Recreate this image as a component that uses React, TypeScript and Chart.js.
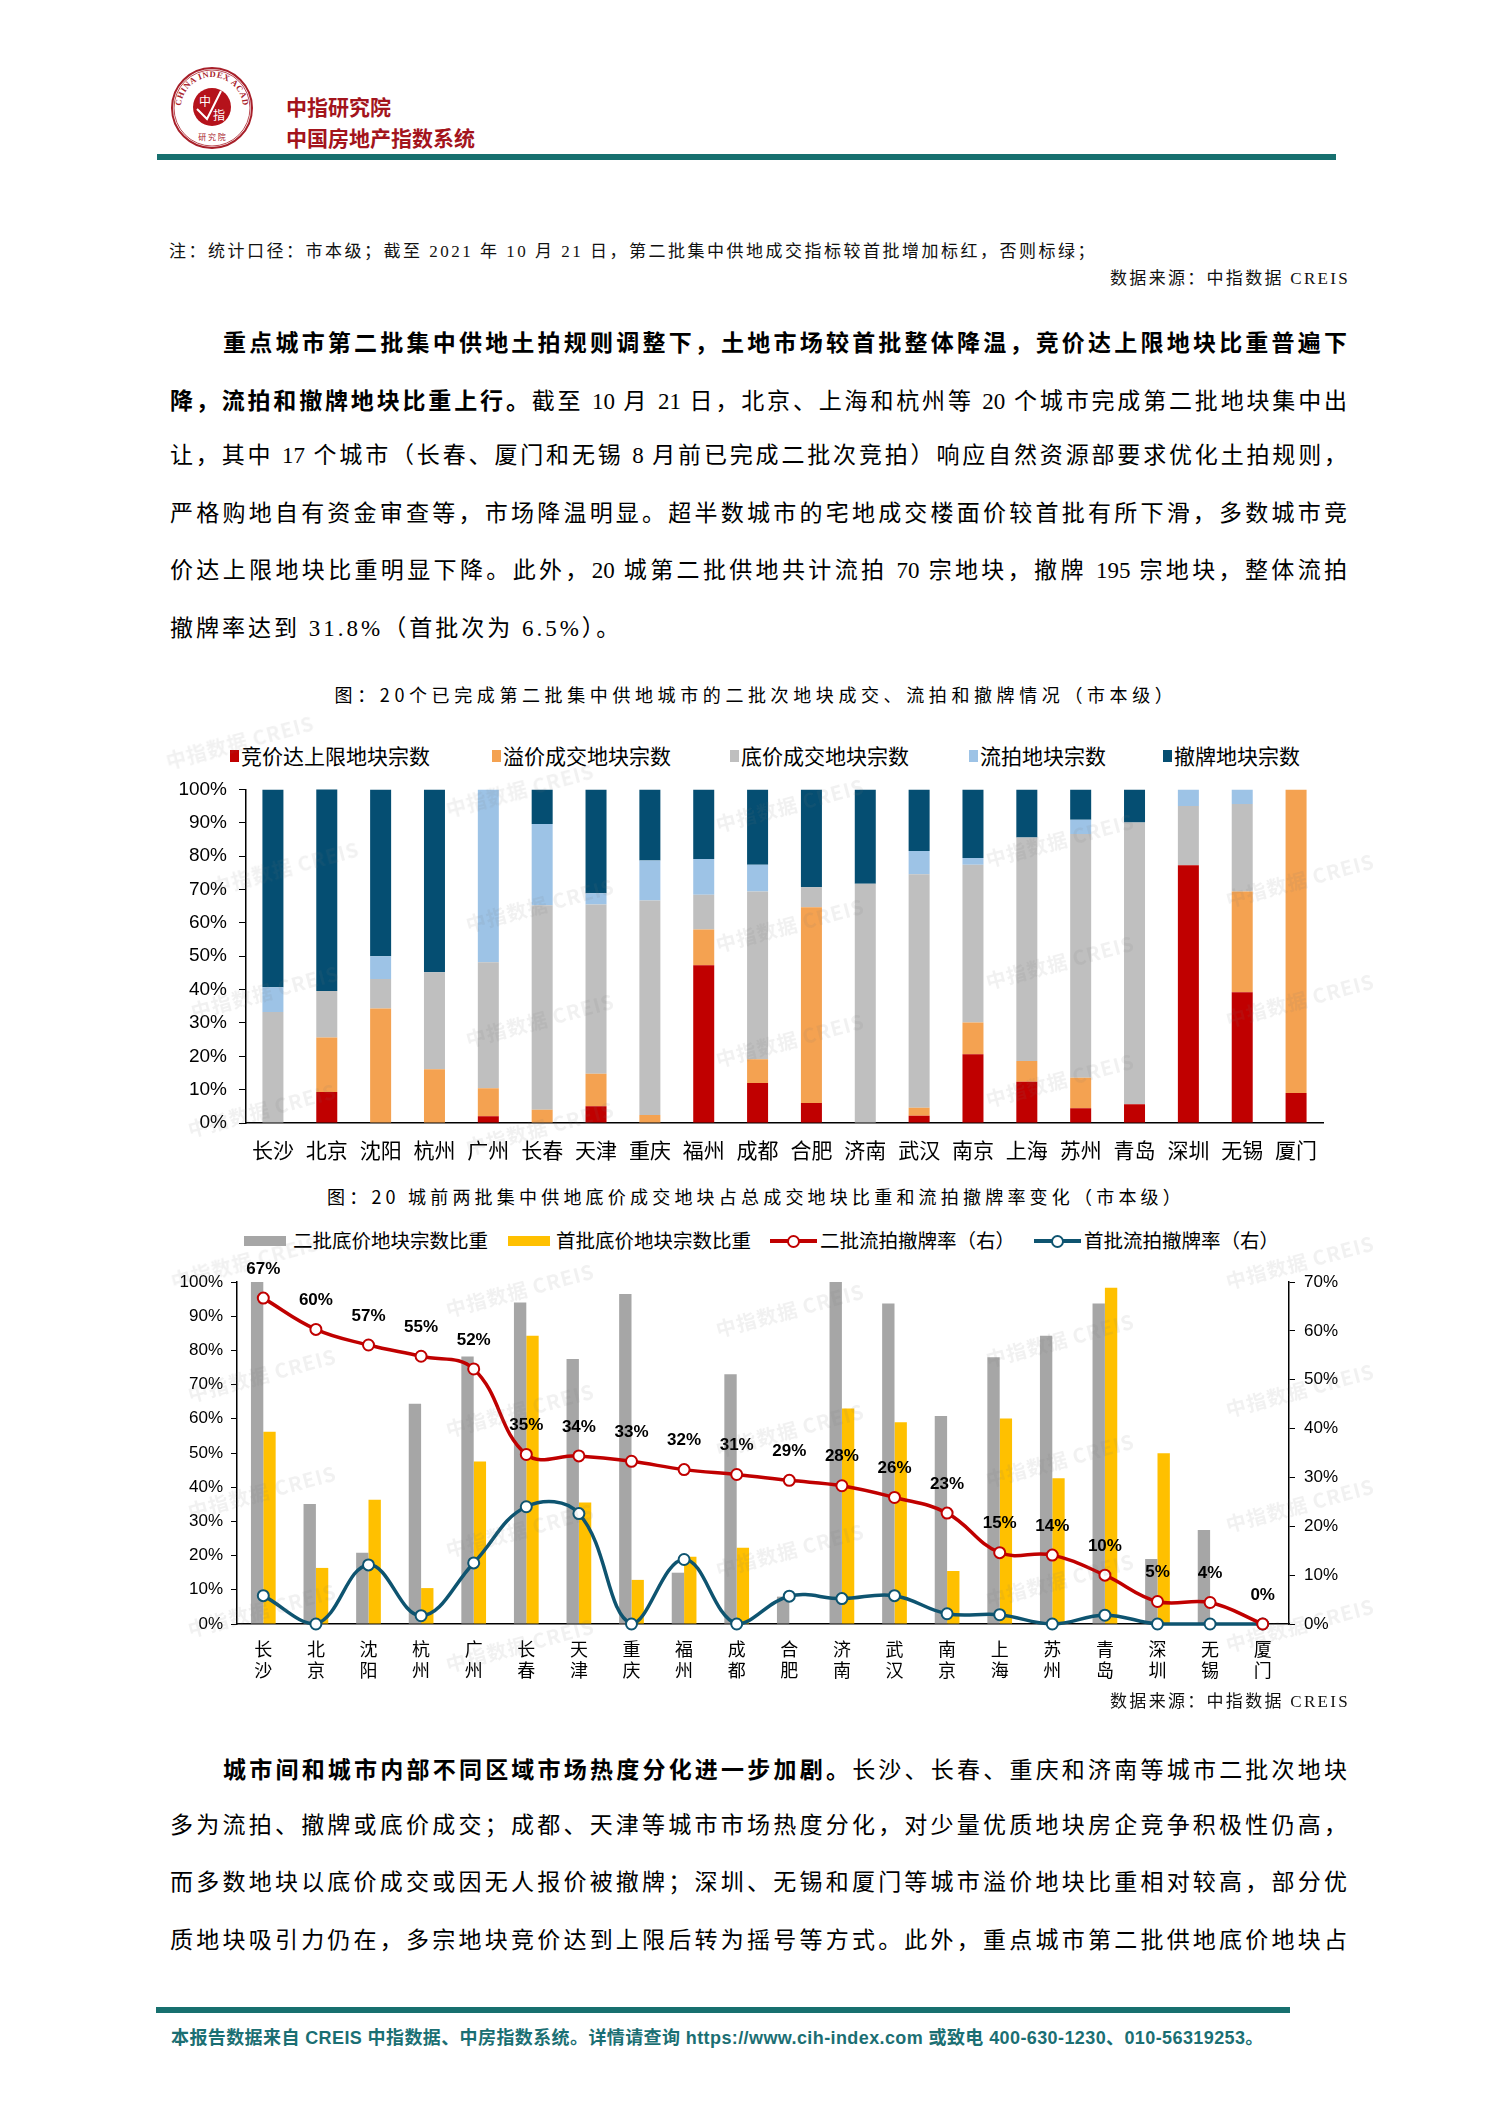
import React, { useEffect, useRef } from 'react';
import { Chart, registerables } from 'chart.js';

Chart.register(...registerables);

// ---------- data ----------
const cities = ['长沙', '北京', '沈阳', '杭州', '广州', '长春', '天津', '重庆', '福州', '成都', '合肥', '济南', '武汉', '南京', '上海', '苏州', '青岛', '深圳', '无锡', '厦门'];

// Chart 1: share of plots (%) in the second batch
const cappedShare = [0, 9.3, 0, 0, 2.0, 0, 5.0, 0, 47.3, 12.0, 6.0, 0, 2.2, 20.6, 12.4, 4.4, 5.6, 77.3, 39.2, 9.0];
const premiumShare = [0, 16.3, 34.3, 16.1, 8.4, 4.0, 9.8, 2.4, 10.7, 7.1, 58.7, 0, 2.4, 9.5, 6.2, 9.2, 0, 0, 30.2, 91.0];
const reserveShare = [33.3, 14.0, 8.9, 29.1, 37.8, 61.3, 50.7, 64.3, 10.4, 50.3, 6.0, 71.7, 70.0, 47.3, 67.0, 73.0, 84.5, 17.7, 26.2, 0];
const failedShare = [7.4, 0, 6.8, 0, 51.8, 24.3, 3.4, 12.0, 10.7, 8.0, 0, 0, 6.9, 2.0, 0, 4.3, 0, 5.0, 4.4, 0];
const withdrawnShare = [59.3, 60.5, 50.0, 54.8, 0, 10.4, 31.1, 21.3, 20.9, 22.6, 29.3, 28.3, 18.5, 20.6, 14.4, 9.1, 9.9, 0, 0, 0];
const chart1Legend = ['竞价达上限地块宗数', '溢价成交地块宗数', '底价成交地块宗数', '流拍地块宗数', '撤牌地块宗数'];
const chart1Colors = ['#C00000', '#F4A251', '#BFBFBF', '#9DC3E6', '#054E72'];

// Chart 2
const secondReserveShare = [100, 35.1, 20.8, 64.4, 78.2, 94.0, 77.5, 96.5, 15.0, 73.0, 8.0, 100, 93.7, 60.8, 78.0, 84.3, 93.7, 19.0, 27.5, 0];
const firstReserveShare = [56.2, 16.4, 36.3, 10.5, 47.5, 84.3, 35.5, 12.9, 19.7, 22.3, 0, 63.0, 59.0, 15.5, 60.1, 42.6, 98.3, 49.9, 0, 0];
const secondFailRate = [66.7, 60.3, 57.1, 54.8, 52.2, 34.7, 34.4, 33.3, 31.6, 30.6, 29.4, 28.3, 25.9, 22.7, 14.6, 14.1, 10.0, 4.6, 4.4, 0];
const firstFailRate = [5.8, 0, 12.1, 1.7, 12.5, 24.0, 22.6, 0, 13.2, 0, 5.7, 5.2, 5.8, 2.1, 1.9, 0, 1.8, 0, 0, 0];
const leftTicks = [0, 10, 20, 30, 40, 50, 60, 70, 80, 90, 100];
const rightTicks = [0, 10, 20, 30, 40, 50, 60, 70];

// ---------- style constants ----------
const CJK = '"Noto Sans CJK SC", "Noto Sans", sans-serif';
const NARROW = '"Liberation Sans Narrow", "Arial Narrow", "Liberation Sans", Arial, sans-serif';
const SERIF_CJK = '"Liberation Serif", "Noto Sans CJK SC", serif';
const TEAL = '#17706F';

// faint page watermarks (x, y centre)
const watermarks = [
  [240, 742], [285, 868], [265, 992], [262, 1110], [520, 790], [540, 905], [540, 1020], [540, 1128],
  [790, 805], [790, 925], [790, 1040], [1060, 840], [1060, 962], [1060, 1080], [1300, 880], [1300, 1000],
  [245, 1262], [262, 1375], [262, 1492], [262, 1610], [520, 1290], [520, 1410], [520, 1530], [520, 1645],
  [790, 1310], [790, 1430], [790, 1550], [1060, 1340], [1060, 1460], [1060, 1580], [1300, 1262], [1300, 1390], [1300, 1505], [1300, 1625],
];

const redLabelPlugin = {
  id: 'redLabels',
  afterDatasetsDraw(chart: any) {
    const meta = chart.getDatasetMeta(0);
    const ctx = chart.ctx;
    ctx.save();
    ctx.font = 'bold 17px ' + NARROW;
    ctx.fillStyle = '#000';
    ctx.textAlign = 'center';
    ctx.textBaseline = 'middle';
    meta.data.forEach((pt: any, i: number) => {
      ctx.fillText(Math.round(secondFailRate[i]) + '%', pt.x, pt.y - 29);
    });
    ctx.restore();
  },
};

function ChartCanvas({ left, top, width, height, make }: any) {
  const ref = useRef<HTMLCanvasElement>(null);
  useEffect(() => {
    const chart = new Chart(ref.current as HTMLCanvasElement, make());
    return () => chart.destroy();
  }, []);
  return (
    <div style={{ position: 'absolute', left, top, width, height }}>
      <canvas ref={ref} width={width} height={height} style={{ width, height, display: 'block' }} />
    </div>
  );
}

function chart1Config(): any {
  return {
    type: 'bar',
    data: {
      labels: cities,
      datasets: [cappedShare, premiumShare, reserveShare, failedShare, withdrawnShare].map((d, i) => ({
        label: chart1Legend[i],
        data: d,
        backgroundColor: chart1Colors[i],
        borderWidth: 0,
        categoryPercentage: 1,
        barPercentage: 0.39,
      })),
    },
    options: {
      animation: false,
      responsive: false,
      layout: { padding: { top: 14, right: 17, left: 0, bottom: 0 } },
      plugins: { legend: { display: false }, tooltip: { enabled: false } },
      scales: {
        x: {
          stacked: true,
          grid: { display: false, drawTicks: false },
          border: { display: true, color: '#000', width: 1.5 },
          ticks: { font: { family: CJK, size: 21 }, color: '#000', padding: 14, autoSkip: false, maxRotation: 0 },
          afterFit: (s: any) => { s.height = 50; },
        },
        y: {
          stacked: true,
          min: 0,
          max: 100,
          afterBuildTicks: (s: any) => { s.ticks = leftTicks.map((v) => ({ value: v })); },
          ticks: { callback: (v: any) => v + '%', font: { family: NARROW, size: 19 }, color: '#000', padding: 12 },
          grid: { drawOnChartArea: false, drawTicks: true, tickLength: 7, color: '#000' },
          border: { display: true, color: '#000', width: 1.5 },
          afterFit: (s: any) => { s.width = 96; },
        },
      },
    },
  };
}

function chart2Config(): any {
  return {
    type: 'bar',
    data: {
      labels: cities.map((c) => c.split('')),
      datasets: [
        {
          type: 'line', label: '二批流拍撤牌率（右）', data: secondFailRate, yAxisID: 'y1',
          borderColor: '#C00000', borderWidth: 3.5, tension: 0.4, pointRadius: 5.5, pointBorderWidth: 2,
          pointBackgroundColor: '#fff', pointBorderColor: '#C00000', order: 0, clip: false,
        },
        {
          type: 'line', label: '首批流拍撤牌率（右）', data: firstFailRate, yAxisID: 'y1',
          borderColor: '#0E5470', borderWidth: 3.5, tension: 0.4, pointRadius: 5.5, pointBorderWidth: 2,
          pointBackgroundColor: '#fff', pointBorderColor: '#0E5470', order: 1, clip: false,
        },
        {
          type: 'bar', label: '二批底价地块宗数比重', data: secondReserveShare, yAxisID: 'y',
          backgroundColor: '#A6A6A6', categoryPercentage: 0.47, barPercentage: 1, order: 2,
        },
        {
          type: 'bar', label: '首批底价地块宗数比重', data: firstReserveShare, yAxisID: 'y',
          backgroundColor: '#FFC000', categoryPercentage: 0.47, barPercentage: 1, order: 3,
        },
      ],
    },
    options: {
      animation: false,
      responsive: false,
      layout: { padding: { top: 20, right: 0, left: 0, bottom: 0 } },
      plugins: { legend: { display: false }, tooltip: { enabled: false } },
      scales: {
        x: {
          grid: { display: false, drawTicks: false },
          border: { display: true, color: '#000', width: 1.5 },
          ticks: { font: { family: CJK, size: 18, lineHeight: 1.15 }, color: '#000', padding: 15, autoSkip: false, maxRotation: 0 },
          afterFit: (s: any) => { s.height = 66; },
        },
        y: {
          position: 'left',
          min: 0,
          max: 100,
          afterBuildTicks: (s: any) => { s.ticks = leftTicks.map((v) => ({ value: v })); },
          ticks: { callback: (v: any) => v + '%', font: { family: NARROW, size: 17 }, color: '#000', padding: 8 },
          grid: { drawOnChartArea: false, drawTicks: true, tickLength: 6, color: '#000' },
          border: { display: true, color: '#000', width: 1.5 },
          afterFit: (s: any) => { s.width = 87; },
        },
        y1: {
          position: 'right',
          min: 0,
          max: 70,
          afterBuildTicks: (s: any) => { s.ticks = rightTicks.map((v) => ({ value: v })); },
          ticks: { callback: (v: any) => v + '%', font: { family: NARROW, size: 17 }, color: '#000', padding: 9 },
          grid: { drawOnChartArea: false, drawTicks: true, tickLength: 6, color: '#000' },
          border: { display: true, color: '#000', width: 1.5 },
          afterFit: (s: any) => { s.width = 61; },
        },
      },
    },
    plugins: [redLabelPlugin],
  };
}

// ---------- text helpers ----------
function Txt({ x, cy, lh = 30, size, children, style }: any) {
  return (
    <div style={{ position: 'absolute', left: x, top: cy - lh / 2, height: lh, lineHeight: lh + 'px', fontSize: size, whiteSpace: 'nowrap', ...style }}>
      {children}
    </div>
  );
}

const PX = 170;
const PW = 1177;
function PLine({ cy, indent, justify = true, children }: any) {
  const ind = indent ? 53 : 0;
  return (
    <div
      style={{
        position: 'absolute', left: PX + ind, top: cy - 17, width: PW - ind, height: 34, lineHeight: '34px',
        fontSize: 23, fontFamily: SERIF_CJK, color: '#000',
        letterSpacing: justify ? 0 : 3,
        textAlign: justify ? 'justify' : 'left', textAlignLast: justify ? 'justify' : 'left',
      } as any}
    >
      {children}
    </div>
  );
}

const B = ({ children }: any) => <span style={{ fontWeight: 'bold', fontFamily: CJK }}>{children}</span>;

function Logo() {
  return (
    <svg width={86} height={86} viewBox="0 0 86 86" style={{ position: 'absolute', left: 169, top: 65 }}>
      <defs>
        <path id="ring" d="M 12 43 A 31 31 0 1 1 74 43" />
      </defs>
      <circle cx={43} cy={43} r={40} fill="#fff" stroke="#A8202A" strokeWidth={2} />
      <circle cx={43} cy={43} r={38} fill="none" stroke="#A8202A" strokeWidth={0.8} />
      <text fontSize={8.5} fill="#A8202A" fontFamily="Liberation Serif" fontWeight="bold" letterSpacing={0.6}>
        <textPath href="#ring" startOffset="2%">CHINA INDEX ACADEMY</textPath>
      </text>
      <circle cx={43} cy={42} r={19} fill="#B5121B" />
      <text x={36} y={41} fontSize={12} fill="#fff" fontFamily={CJK} textAnchor="middle">中</text>
      <text x={50} y={55} fontSize={12} fill="#fff" fontFamily={CJK} textAnchor="middle">指</text>
      <path d="M 28 44 L 38 54 L 52 26" stroke="#fff" strokeWidth={2} fill="none" />
      <text x={43} y={75} fontSize={8} fill="#A8202A" fontFamily={CJK} textAnchor="middle">研 究 院</text>
    </svg>
  );
}

function LegendSwatch({ x, cy, w, h, color }: any) {
  return <div style={{ position: 'absolute', left: x, top: cy - h / 2, width: w, height: h, background: color }} />;
}

function LineSwatch({ x, cy, color }: any) {
  return (
    <div style={{ position: 'absolute', left: x, top: cy - 7, width: 47, height: 14 }}>
      <div style={{ position: 'absolute', left: 0, top: 5.25, width: 47, height: 3.5, background: color }} />
      <div style={{ position: 'absolute', left: 17, top: 1, width: 9, height: 9, borderRadius: '50%', background: '#fff', border: `2px solid ${color}` }} />
    </div>
  );
}

function Watermark({ x, y }: any) {
  return (
    <div style={{
      position: 'absolute', left: x - 90, top: y - 15, width: 180, height: 30, lineHeight: '30px', textAlign: 'center',
      fontSize: 20, fontWeight: 'bold', color: 'rgba(120,120,120,0.10)', transform: 'rotate(-15deg)', whiteSpace: 'nowrap',
      pointerEvents: 'none', fontFamily: CJK, letterSpacing: 1,
    }}>
      中指数据 CREIS
    </div>
  );
}

export default function App() {
  const p1 = [341, 398.5, 456, 513.5, 571, 628.5];
  const p2 = [1768, 1825.5, 1883, 1940.5];
  const legend1X = [230, 492, 730, 969, 1163];
  return (
    <div style={{ position: 'absolute', left: 0, top: 0, width: 1488, height: 2104, background: '#fff', overflow: 'hidden', fontFamily: CJK, color: '#000' }}>
      {/* header */}
      <Logo />
      <Txt x={286} cy={106} size={21} style={{ color: '#A3141C', fontWeight: 'bold' }}>中指研究院</Txt>
      <Txt x={286} cy={137} size={21} style={{ color: '#A3141C', fontWeight: 'bold' }}>中国房地产指数系统</Txt>
      <div style={{ position: 'absolute', left: 157, top: 154, width: 1179, height: 6, background: TEAL }} />

      {/* note */}
      <Txt x={169} cy={252} size={17} style={{ fontFamily: SERIF_CJK, letterSpacing: 2.5, color: '#111' }}>
        注：统计口径：市本级；截至 2021 年 10 月 21 日，第二批集中供地成交指标较首批增加标红，否则标绿；
      </Txt>
      <Txt x={850} cy={279} size={17} style={{ fontFamily: SERIF_CJK, letterSpacing: 2.3, color: '#111', width: 500, textAlign: 'right' }}>
        数据来源：中指数据 CREIS
      </Txt>

      {/* paragraph 1 */}
      <PLine cy={p1[0]} indent><B>重点城市第二批集中供地土拍规则调整下，土地市场较首批整体降温，竞价达上限地块比重普遍下</B></PLine>
      <PLine cy={p1[1]}><B>降，流拍和撤牌地块比重上行。</B>截至 10 月 21 日，北京、上海和杭州等 20 个城市完成第二批地块集中出</PLine>
      <PLine cy={p1[2]}>让，其中 17 个城市（长春、厦门和无锡 8 月前已完成二批次竞拍）响应自然资源部要求优化土拍规则，</PLine>
      <PLine cy={p1[3]}>严格购地自有资金审查等，市场降温明显。超半数城市的宅地成交楼面价较首批有所下滑，多数城市竞</PLine>
      <PLine cy={p1[4]}>价达上限地块比重明显下降。此外，20 城第二批供地共计流拍 70 宗地块，撤牌 195 宗地块，整体流拍</PLine>
      <PLine cy={p1[5]} justify={false}>撤牌率达到 31.8%（首批次为 6.5%）。</PLine>

      {/* chart 1 */}
      <Txt x={256} cy={694} size={18} style={{ width: 1000, textAlign: 'center', letterSpacing: 4.6 }}>
        图：20个已完成第二批集中供地城市的二批次地块成交、流拍和撤牌情况（市本级）
      </Txt>
      {chart1Legend.map((t, i) => (
        <React.Fragment key={t}>
          <LegendSwatch x={legend1X[i]} cy={756} w={9} h={12} color={chart1Colors[i]} />
          <Txt x={legend1X[i] + 11} cy={755} size={21}>{t}</Txt>
        </React.Fragment>
      ))}
      <ChartCanvas left={150} top={766} width={1190} height={407} make={chart1Config} />

      {/* chart 2 */}
      <Txt x={256} cy={1196} size={18} style={{ width: 1000, textAlign: 'center', letterSpacing: 4.2 }}>
        图：20 城前两批集中供地底价成交地块占总成交地块比重和流拍撤牌率变化（市本级）
      </Txt>
      <LegendSwatch x={244} cy={1241} w={42} h={10} color="#A6A6A6" />
      <Txt x={293} cy={1240} size={19.5}>二批底价地块宗数比重</Txt>
      <LegendSwatch x={508} cy={1241} w={42} h={10} color="#FFC000" />
      <Txt x={556} cy={1240} size={19.5}>首批底价地块宗数比重</Txt>
      <LineSwatch x={770} cy={1241} color="#C00000" />
      <Txt x={820} cy={1240} size={19.5}>二批流拍撤牌率（右）</Txt>
      <LineSwatch x={1034} cy={1241} color="#0E5470" />
      <Txt x={1084} cy={1240} size={19.5}>首批流拍撤牌率（右）</Txt>
      <ChartCanvas left={150} top={1262} width={1200} height={428} make={chart2Config} />
      <Txt x={850} cy={1702} size={17} style={{ fontFamily: SERIF_CJK, letterSpacing: 2.3, color: '#111', width: 500, textAlign: 'right' }}>
        数据来源：中指数据 CREIS
      </Txt>

      {watermarks.map(([x, y], i) => <Watermark key={i} x={x} y={y} />)}

      {/* paragraph 2 */}
      <PLine cy={p2[0]} indent><B>城市间和城市内部不同区域市场热度分化进一步加剧。</B>长沙、长春、重庆和济南等城市二批次地块</PLine>
      <PLine cy={p2[1]}>多为流拍、撤牌或底价成交；成都、天津等城市市场热度分化，对少量优质地块房企竞争积极性仍高，</PLine>
      <PLine cy={p2[2]}>而多数地块以底价成交或因无人报价被撤牌；深圳、无锡和厦门等城市溢价地块比重相对较高，部分优</PLine>
      <PLine cy={p2[3]}>质地块吸引力仍在，多宗地块竞价达到上限后转为摇号等方式。此外，重点城市第二批供地底价地块占</PLine>

      {/* footer */}
      <div style={{ position: 'absolute', left: 156, top: 2007, width: 1134, height: 6, background: TEAL }} />
      <Txt x={171} cy={2038} size={18} style={{ color: '#1B6F73', fontWeight: 'bold', letterSpacing: 0.4, fontFamily: '"Liberation Sans", "Noto Sans CJK SC", sans-serif' }}>
        本报告数据来自 CREIS 中指数据、中房指数系统。详情请查询 https://www.cih-index.com 或致电 400-630-1230、010-56319253。
      </Txt>
    </div>
  );
}
